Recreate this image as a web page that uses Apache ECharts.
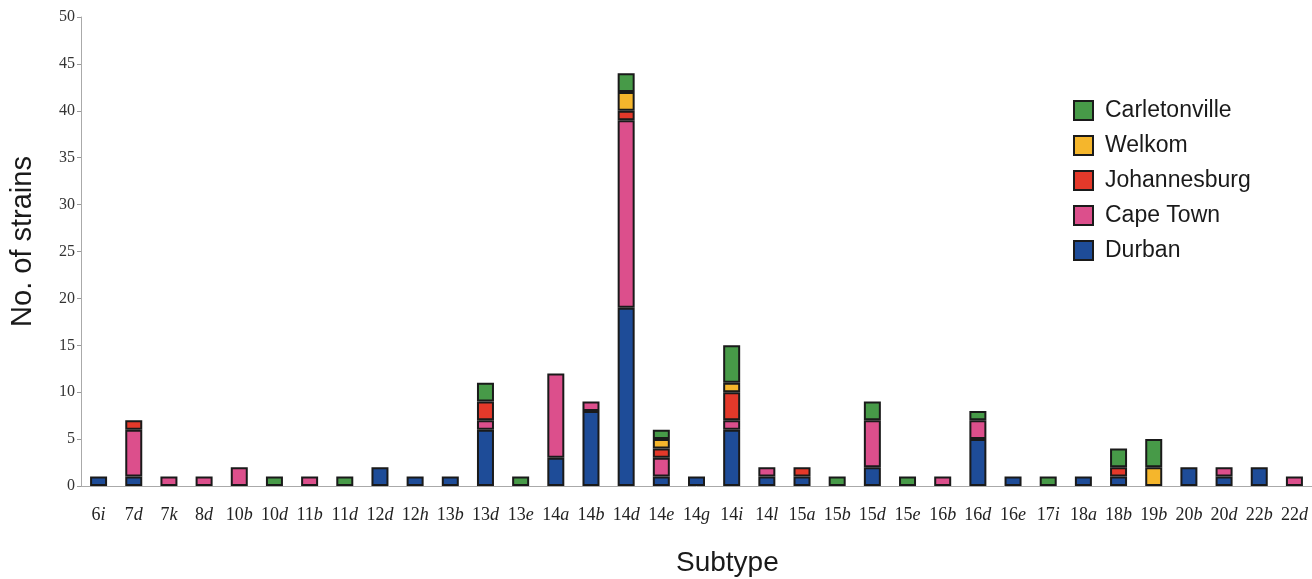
<!DOCTYPE html>
<html>
<head>
<meta charset="utf-8">
<style>
  html, body { margin: 0; padding: 0; background: #fff; }
  #chart { width: 1312px; height: 579px; }
</style>
<script src="https://cdn.jsdelivr.net/npm/echarts@6/dist/echarts.min.js"></script>
</head>
<body>
<div id="chart"></div>
<script>
// subtypes along the x axis
const subtypes = ['6i', '7d', '7k', '8d', '10b', '10d', '11b', '11d', '12d', '12h', '13b', '13d', '13e',
  '14a', '14b', '14d', '14e', '14g', '14i', '14l', '15a', '15b', '15d', '15e', '16b', '16d', '16e',
  '17i', '18a', '18b', '19b', '20b', '20d', '22b', '22d']

// strains per city (stacked bottom -> top)
const durban        = [1, 1, 0, 0, 0, 0, 0, 0, 2, 1, 1, 6, 0, 3, 8, 19, 1, 1, 6, 1, 1, 0, 2, 0, 0, 5, 1, 0, 1, 1, 0, 2, 1, 2, 0]
const capeTown      = [0, 5, 1, 1, 2, 0, 1, 0, 0, 0, 0, 1, 0, 9, 1, 20, 2, 0, 1, 1, 0, 0, 5, 0, 1, 2, 0, 0, 0, 0, 0, 0, 1, 0, 1]
const johannesburg  = [0, 1, 0, 0, 0, 0, 0, 0, 0, 0, 0, 2, 0, 0, 0, 1, 1, 0, 3, 0, 1, 0, 0, 0, 0, 0, 0, 0, 0, 1, 0, 0, 0, 0, 0]
const welkom        = [0, 0, 0, 0, 0, 0, 0, 0, 0, 0, 0, 0, 0, 0, 0, 2, 1, 0, 1, 0, 0, 0, 0, 0, 0, 0, 0, 0, 0, 0, 2, 0, 0, 0, 0]
const carletonville = [0, 0, 0, 0, 0, 1, 0, 1, 0, 0, 0, 2, 1, 0, 0, 2, 1, 0, 4, 0, 0, 1, 2, 1, 0, 1, 0, 1, 0, 2, 3, 0, 0, 0, 0]

const yTicks = { min: 0, max: 50, interval: 5 }

const cities = [
  { name: 'Durban', data: durban, color: '#1e4c98' },
  { name: 'Cape Town', data: capeTown, color: '#dc4f8c' },
  { name: 'Johannesburg', data: johannesburg, color: '#e4392a' },
  { name: 'Welkom', data: welkom, color: '#f5b62c' },
  { name: 'Carletonville', data: carletonville, color: '#479a48' }
]

const chart = echarts.init(document.getElementById('chart'))

const serif = '"Liberation Serif", "DejaVu Serif", serif'
const sans = '"Liberation Sans", Arial, sans-serif'

const option = {
  animation: false,
  grid: { left: 80, right: 0, top: 17, bottom: 93 },
  legend: {
    orient: 'vertical',
    left: 1068,
    top: 94,
    itemWidth: 19,
    itemHeight: 19,
    itemGap: 12,
    icon: 'rect',
    data: ['Carletonville', 'Welkom', 'Johannesburg', 'Cape Town', 'Durban'],
    textStyle: { fontFamily: sans, fontSize: 23, color: '#1a1a1a', padding: [0, 0, 0, 7] }
  },
  xAxis: {
    type: 'category',
    data: subtypes,
    axisLine: { lineStyle: { color: '#aaa', width: 1 } },
    axisTick: { length: 3, lineStyle: { color: '#999' } },
    axisLabel: {
      margin: 20,
      interval: 0,
      formatter: v => {
        const m = v.match(/^(\d+)(\D*)$/)
        return '{n|' + m[1] + '}{l|' + m[2] + '}'
      },
      rich: {
        n: { fontFamily: serif, fontSize: 18, color: '#222' },
        l: { fontFamily: serif, fontSize: 18, fontStyle: 'italic', color: '#222' }
      }
    }
  },
  yAxis: {
    type: 'value',
    min: yTicks.min,
    max: yTicks.max,
    interval: yTicks.interval,
    name: 'No. of strains',
    nameLocation: 'middle',
    nameGap: 44,
    nameTextStyle: { fontFamily: sans, fontSize: 29, color: '#1a1a1a', padding: [0, 0, 0, 20] },
    splitLine: { show: false },
    axisLine: { show: true, lineStyle: { color: '#aaa', width: 1 } },
    axisTick: { show: true, length: 4, lineStyle: { color: '#999' } },
    axisLabel: { fontFamily: serif, fontSize: 16, color: '#333', margin: 6 }
  },
  graphic: [{
    type: 'text',
    left: 676,
    top: 549,
    style: { text: 'Subtype', fontFamily: sans, fontSize: 28, fill: '#1a1a1a' }
  }],
  series: cities.map(c => ({
    name: c.name,
    type: 'bar',
    stack: 'total',
    barWidth: 17,
    data: c.data.map(v => (v === 0 ? '-' : v)),
    itemStyle: { color: c.color, borderColor: '#1a1a1a', borderWidth: 2 }
  }))
}

chart.setOption(option)
</script>
</body>
</html>
